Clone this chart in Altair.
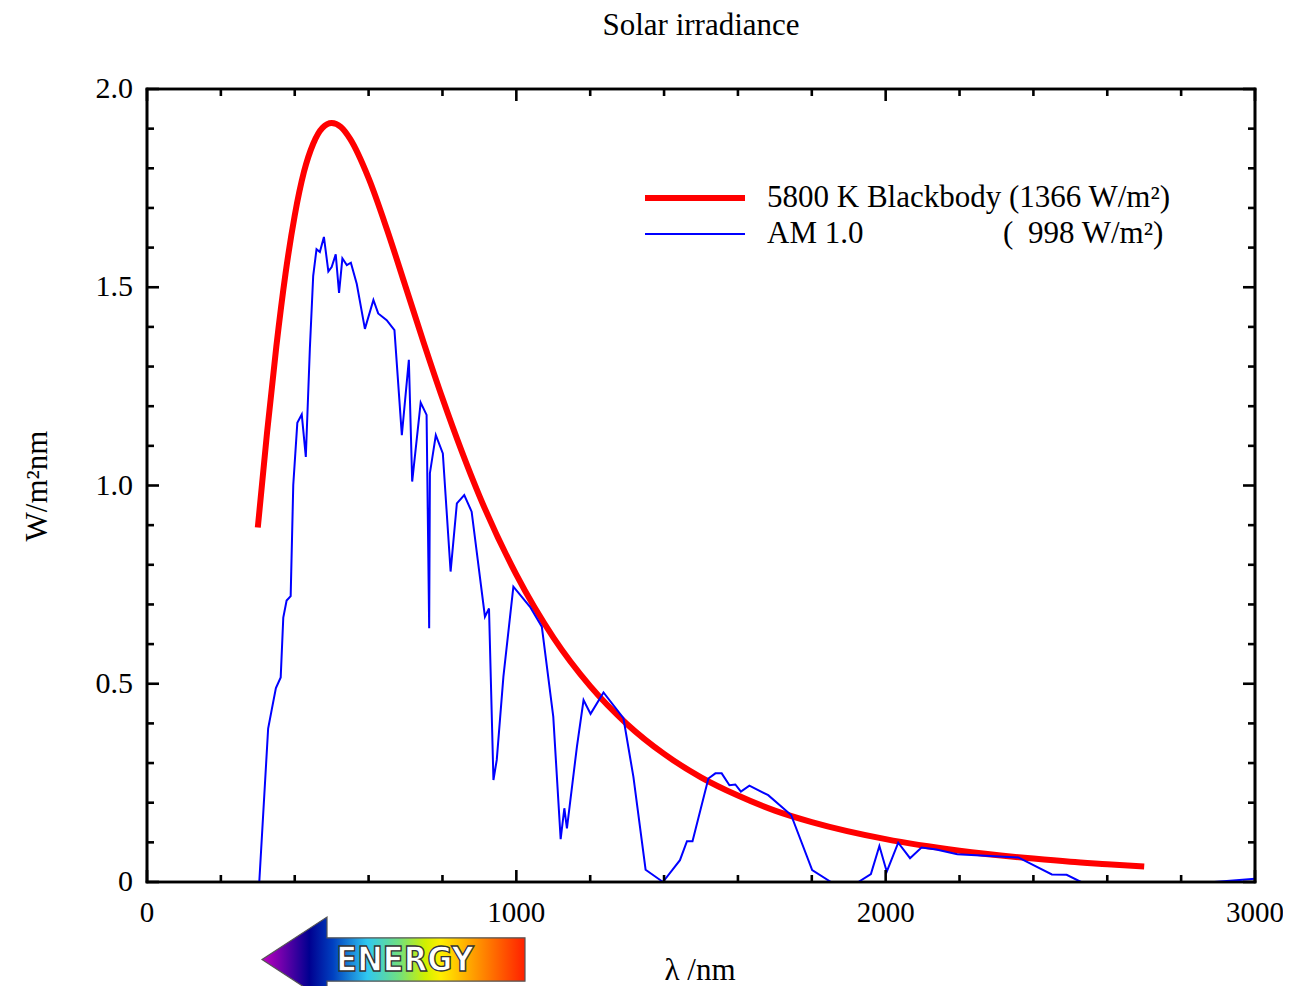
import altair as alt
import pandas as pd

W, H = 1108, 793
SERIF = "Liberation Serif"

# 5800 K blackbody curve
bb_wl = [300, 325, 350, 375, 400, 425, 450, 475, 500, 525, 550, 600, 650, 700, 750, 800,
         900, 1000, 1100, 1200, 1300, 1400, 1500, 1600, 1700, 1800, 2000, 2200, 2400, 2500, 2600, 2700]
bb_val = [0.894, 1.133, 1.349, 1.534, 1.681, 1.791, 1.862, 1.902, 1.914, 1.904, 1.874, 1.775, 1.645, 1.502, 1.358, 1.220,
          0.974, 0.775, 0.617, 0.494, 0.398, 0.323, 0.264, 0.218, 0.180, 0.151, 0.108, 0.079, 0.059, 0.051, 0.045, 0.039]

# AM 1.0 spectrum
am_wl = [304, 328, 338, 349, 362, 369, 378, 389, 396, 407, 419, 430, 441, 450, 459, 468, 479, 491, 500, 511,
         520, 529, 541, 552, 568, 590, 613, 626, 649, 670, 690, 709, 718, 741, 757, 764, 766, 782, 801, 822,
         839, 859, 879, 915, 926, 938, 947, 965, 992, 1037, 1069, 1100, 1120, 1130, 1137, 1164, 1182, 1201,
         1236, 1290, 1317, 1350, 1397, 1443, 1462, 1477, 1520, 1539, 1556, 1577, 1593, 1608, 1631, 1682,
         1744, 1801, 1852, 1926, 1960, 1983, 2003, 2034, 2066, 2097, 2137, 2194, 2359, 2450, 2490, 2529,
         2890, 3000]
am_val = [0.0, 0.387, 0.436, 0.489, 0.516, 0.667, 0.710, 0.721, 1.001, 1.158, 1.179, 1.072, 1.346, 1.529, 1.596,
          1.589, 1.627, 1.540, 1.551, 1.583, 1.486, 1.573, 1.556, 1.562, 1.508, 1.395, 1.468, 1.434, 1.417, 1.392,
          1.127, 1.317, 1.010, 1.209, 1.178, 0.640, 1.031, 1.127, 1.081, 0.783, 0.955, 0.976, 0.934, 0.669, 0.690,
          0.257, 0.308, 0.518, 0.745, 0.694, 0.644, 0.417, 0.108, 0.186, 0.135, 0.341, 0.459, 0.424, 0.478, 0.413,
          0.265, 0.031, 0.0, 0.055, 0.103, 0.103, 0.261, 0.274, 0.274, 0.244, 0.246, 0.228, 0.243, 0.219, 0.169,
          0.030, 0.0, 0.0, 0.020, 0.091, 0.026, 0.099, 0.060, 0.087, 0.082, 0.070, 0.062, 0.019, 0.018, 0.0,
          0.0, 0.008]

x_major = [0, 1000, 2000, 3000]
x_major_labels = ["0", "1000", "2000", "3000"]
x_minor = [200, 400, 600, 800, 1200, 1400, 1600, 1800, 2200, 2400, 2600, 2800]
y_major = [0.0, 0.5, 1.0, 1.5, 2.0]
y_major_labels = ["0", "0.5", "1.0", "1.5", "2.0"]
y_minor = [0.1, 0.2, 0.3, 0.4, 0.6, 0.7, 0.8, 0.9, 1.1, 1.2, 1.3, 1.4, 1.6, 1.7, 1.8, 1.9]

xs = alt.Scale(domain=[0, 3000], nice=False, zero=False)
ys = alt.Scale(domain=[0, 2], nice=False, zero=False)

bb_df = pd.DataFrame({"wl": bb_wl, "v": bb_val})
am_df = pd.DataFrame({"wl": am_wl, "v": am_val})

def X(f):
    return alt.X(f"{f}:Q", scale=xs, axis=None)

def Y(f):
    return alt.Y(f"{f}:Q", scale=ys, axis=None)

one = pd.DataFrame({"a": [0]})

red = alt.Chart(bb_df).mark_line(color="#ff0000", strokeWidth=6, interpolate="monotone").encode(
    x=X("wl"), y=Y("v"))
blue = alt.Chart(am_df).mark_line(color="#0000ff", strokeWidth=2).encode(x=X("wl"), y=Y("v"))

TW = 2.6
MAJ, MIN = 12, 7
xmaj_df = pd.DataFrame({"wl": x_major, "lab": x_major_labels})
xmin_df = pd.DataFrame({"wl": x_minor})
ymaj_df = pd.DataFrame({"v": y_major, "lab": y_major_labels})
ymin_df = pd.DataFrame({"v": y_minor})

ticks = []
for df, L in ((xmaj_df, MAJ), (xmin_df, MIN)):
    ticks.append(alt.Chart(df).mark_rule(color="black", strokeWidth=TW).encode(
        x=X("wl"), y=alt.value(H), y2=alt.value(H - L)))
    ticks.append(alt.Chart(df).mark_rule(color="black", strokeWidth=TW).encode(
        x=X("wl"), y=alt.value(0), y2=alt.value(L)))
for df, L in ((ymaj_df, MAJ), (ymin_df, MIN)):
    ticks.append(alt.Chart(df).mark_rule(color="black", strokeWidth=TW).encode(
        y=Y("v"), x=alt.value(0), x2=alt.value(L)))
    ticks.append(alt.Chart(df).mark_rule(color="black", strokeWidth=TW).encode(
        y=Y("v"), x=alt.value(W), x2=alt.value(W - L)))

# plot frame
frame = [
    alt.Chart(one).mark_rule(color="black", strokeWidth=TW, strokeCap="square").encode(
        x=alt.value(0), x2=alt.value(W), y=alt.value(0)),
    alt.Chart(one).mark_rule(color="black", strokeWidth=TW, strokeCap="square").encode(
        x=alt.value(0), x2=alt.value(W), y=alt.value(H)),
    alt.Chart(one).mark_rule(color="black", strokeWidth=TW, strokeCap="square").encode(
        x=alt.value(0), y=alt.value(0), y2=alt.value(H)),
    alt.Chart(one).mark_rule(color="black", strokeWidth=TW, strokeCap="square").encode(
        x=alt.value(W), y=alt.value(0), y2=alt.value(H)),
]

xlabels = alt.Chart(xmaj_df).mark_text(font=SERIF, fontSize=29, align="center", baseline="middle",
                                       color="black").encode(
    x=X("wl"), y=alt.value(H + 31), text="lab:N")
ylabels = alt.Chart(ymaj_df).mark_text(font=SERIF, fontSize=30, align="right", baseline="middle",
                                       color="black").encode(
    y=Y("v"), x=alt.value(-14), text="lab:N")

def label(txt, x, y, size=31, align="left", angle=0, font=SERIF):
    return alt.Chart(pd.DataFrame({"t": [txt]})).mark_text(
        font=font, fontSize=size, align=align, baseline="middle", color="black", angle=angle
    ).encode(text="t:N", x=alt.value(x), y=alt.value(y))

title = label("Solar irradiance", 554, -63, size=31, align="center")
xtitle = label("λ /nm", 553, 882, size=31, align="center")
ytitle = label("W/m²nm", -109, 397, size=31, align="center", angle=270)

leg_red = alt.Chart(one).mark_rule(color="#ff0000", strokeWidth=6).encode(
    x=alt.value(498), x2=alt.value(598), y=alt.value(109))
leg_blue = alt.Chart(one).mark_rule(color="#0000ff", strokeWidth=2).encode(
    x=alt.value(498), x2=alt.value(598), y=alt.value(145))
leg_t1 = label("5800 K Blackbody (1366 W/m²)", 620, 109)
leg_t2 = label("AM 1.0", 620, 145)
leg_t3 = label("(", 856, 145)
leg_t4 = label("998 W/m²)", 881, 145)

# ENERGY arrow
arrow_path = ("M -1 0 L -0.5057 -0.3232 L -0.5057 -0.165 L 1 -0.165 L 1 0.165 "
              "L -0.5057 0.165 L -0.5057 0.3232 Z")
grad = alt.Gradient(
    gradient="linear", x1=0, x2=1, y1=0, y2=0,
    stops=[
        alt.GradientStop(offset=0.0, color="#c000c0"),
        alt.GradientStop(offset=0.18, color="#000090"),
        alt.GradientStop(offset=0.27, color="#0040c0"),
        alt.GradientStop(offset=0.40, color="#30c8f0"),
        alt.GradientStop(offset=0.52, color="#70e080"),
        alt.GradientStop(offset=0.62, color="#d0f000"),
        alt.GradientStop(offset=0.68, color="#ffee00"),
        alt.GradientStop(offset=0.80, color="#ffa000"),
        alt.GradientStop(offset=1.0, color="#ff2000"),
    ])
arrow = alt.Chart(one).mark_point(shape=arrow_path, size=69169, filled=True, fill=grad,
                                  stroke="#555555", strokeWidth=1.2, opacity=1).encode(
    x=alt.value(246.5), y=alt.value(870.5))
energy = alt.Chart(pd.DataFrame({"t": ["ENERGY"]})).mark_text(
    font="Liberation Sans Narrow, DejaVu Sans Condensed, sans-serif", fontWeight="bold", fontSize=34,
    align="center", baseline="middle", fill="white", stroke="#333333", strokeWidth=1.3
).encode(text="t:N", x=alt.value(258), y=alt.value(872))

chart = alt.layer(
    red, blue, *ticks, *frame, xlabels, ylabels, title, xtitle, ytitle,
    leg_red, leg_blue, leg_t1, leg_t2, leg_t3, leg_t4, arrow, energy
).properties(
    width=W, height=H,
    background="white",
    autosize=alt.AutoSizeParams(type="none"),
    padding={"left": 139, "top": 81, "right": 28, "bottom": 104},
).configure_view(stroke="black", strokeWidth=TW)

chart.save("out.html", embed_options={"renderer": "svg", "actions": False})
